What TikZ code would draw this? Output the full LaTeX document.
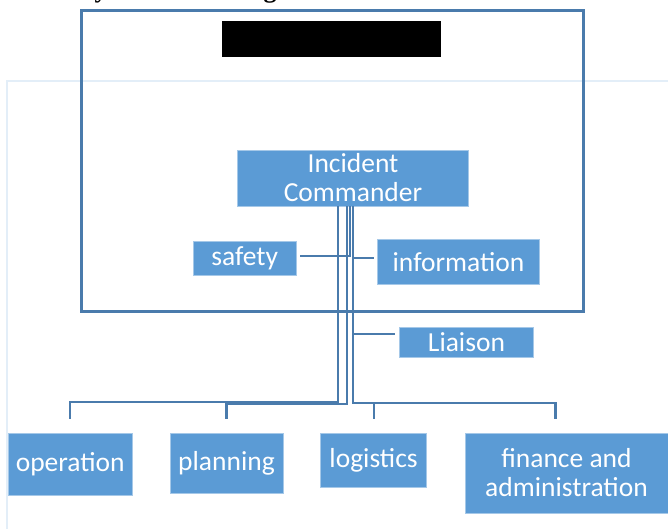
\documentclass[tikz,border=0pt]{standalone}
\usepackage{fontspec}
\setmainfont{Carlito}
\newfontfamily\titlefont{Liberation Serif}
\usetikzlibrary{calc}
\definecolor{boxfill}{HTML}{5B9BD5}
\definecolor{linec}{HTML}{4A7BAC}
\definecolor{lightc}{HTML}{E3EEF8}
\begin{document}
\begin{tikzpicture}[x=1pt,y=-1pt,
  box/.style={fill=boxfill, draw=boxfill!55!white, line width=0.8pt, text=white,
    inner sep=0pt, align=center, font=\fontsize{27.5}{29}\selectfont},
  conn/.style={draw=linec, line width=2.2pt},
  frame/.style={draw=linec, line width=2.5pt},
  cutoff/.style={anchor=base, font=\titlefont\bfseries\fontsize{26}{28}\selectfont}
]
\useasboundingbox (0,0) rectangle (668,528);
\begin{scope}
\clip (0,0) rectangle (668,528);
\fill[white] (0,0) rectangle (668,528);
% cut-off title fragments
\node[cutoff] (ty) at (101,-2.5) {y};
\node[cutoff] (tg) at (270,-2.5) {g};
% faint page rectangle
\draw[lightc, line width=1.5pt] (672,81) -- (7,81) -- (7,532);
% frame and redaction box
\draw[frame] (81.5,10.5) rectangle (583.5,311.5);
\fill[black] (222,21) rectangle (441,57);
% nodes
\node[box, minimum width=231pt, minimum height=56pt] (ic) at (353,178) {Incident\\Commander};
\node[box, minimum width=103pt, minimum height=34pt] (sa) at (244.7,258.5) {safety};
\node[box, minimum width=161.5pt, minimum height=44.5pt] (in) at (458.5,261.7) {information};
\node[box, minimum width=134pt, minimum height=30pt] (li) at (466.5,342) {Liaison};
\node[box, minimum width=123.5pt, minimum height=62pt] (op) at (70.2,464) {operation};
\node[box, minimum width=113pt, minimum height=60pt] (pl) at (226.5,463) {planning};
\node[box, minimum width=106.5pt, minimum height=54pt] (lo) at (373.6,460) {logistics};
\node[box, minimum width=203pt, minimum height=80pt] (fi) at (566.5,473) {finance and\\administration};
% connectors
\draw[conn] ([xshift=-15pt]ic.south) |- ([yshift=31pt]op.north) -- ([yshift=14pt]op.north);
\draw[conn] ([xshift=-6pt]ic.south) |- ([yshift=29pt]pl.north) -- ([yshift=14pt]pl.north);
\draw[conn] ([xshift=-3pt]ic.south) |- ([xshift=3pt,yshift=2.5pt]sa.east);
\draw[conn] (ic.south) |- ([xshift=-3pt,yshift=3.5pt]in.west);
\draw[conn] (ic.south) |- ([xshift=-4pt,yshift=8pt]li.west);
\draw[conn] (ic.south) |- ([yshift=30pt]lo.north) -- ([yshift=14pt]lo.north);
\draw[conn] (ic.south) |- ([xshift=-11pt,yshift=30pt]fi.north) -- ([xshift=-11pt,yshift=14pt]fi.north);
\end{scope}
\end{tikzpicture}
\end{document}
